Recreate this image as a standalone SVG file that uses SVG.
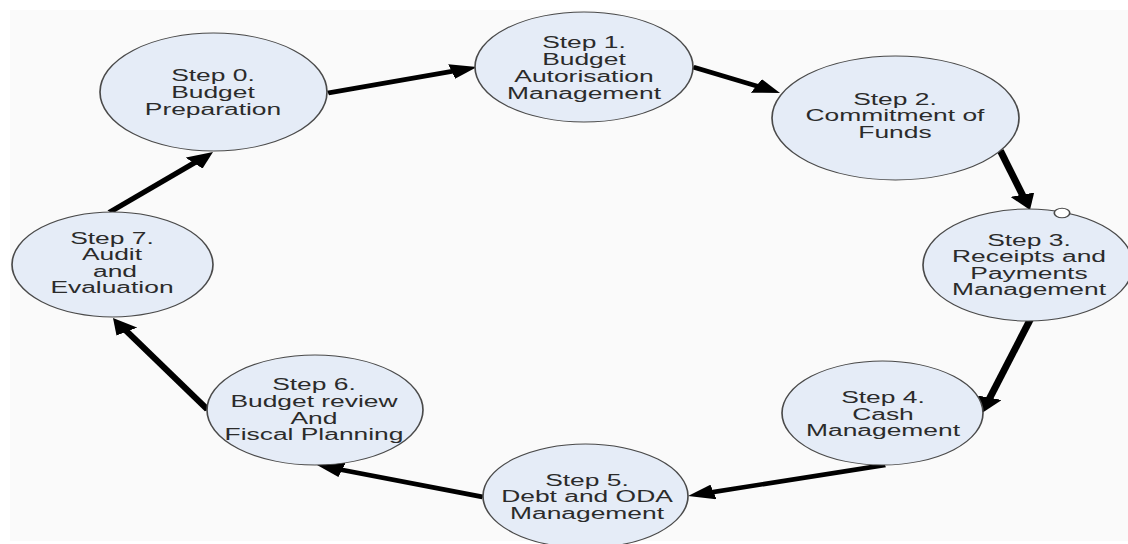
<svg xmlns="http://www.w3.org/2000/svg" width="1128" height="544" viewBox="0 0 1128 544">
<style>
.node{fill:#e5ecf7;stroke:#4a4a4a;stroke-width:1}
.lbl{font-family:"Liberation Sans",Arial,sans-serif;font-size:16px;fill:#2b2b2b;text-anchor:middle}
.conn{stroke:#000;stroke-width:4.5;fill:none;marker-end:url(#arrow)}
.pt{fill:#fff;stroke:#4a4a4a;stroke-width:1}
</style>
<defs>
<marker id="arrow" markerUnits="userSpaceOnUse" markerWidth="16" markerHeight="15" refX="6" refY="7.5" orient="auto">
<path d="M0,0 L16,7.5 L0,15 z" fill="#000"/>
</marker>
</defs>
<rect x="0" y="0" width="1128" height="544" fill="#fff"/>
<rect x="10" y="10" width="1118" height="531" fill="#fafafa"/>
<g transform="scale(1.65 1)">
<g id="connectors">
<line class="conn" x1="198.79" y1="93" x2="279.48" y2="69.77"/>
<line class="conn" x1="420" y1="67" x2="463.76" y2="88.58"/>
<line class="conn" x1="606.06" y1="150" x2="621.34" y2="200.43"/>
<line class="conn" x1="624.24" y1="320" x2="598.14" y2="403.46"/>
<line class="conn" x1="536.36" y1="465" x2="426.65" y2="493.49"/>
<line class="conn" x1="292.73" y1="497" x2="201.65" y2="468.03"/>
<line class="conn" x1="126.06" y1="410" x2="73.79" y2="326.48"/>
<line class="conn" x1="66.67" y1="212" x2="121.88" y2="158.93"/>
</g>
<g id="step0">
<ellipse class="node" cx="129.39" cy="92" rx="68.79" ry="59"/>
<text class="lbl"><tspan x="129.09" y="81">Step 0.</tspan><tspan x="129.09" y="98">Budget</tspan><tspan x="129.09" y="115">Preparation</tspan></text>
</g>
<g id="step1">
<ellipse class="node" cx="353.94" cy="67" rx="66.06" ry="55"/>
<text class="lbl"><tspan x="353.94" y="48">Step 1.</tspan><tspan x="353.94" y="65">Budget</tspan><tspan x="353.94" y="82">Autorisation</tspan><tspan x="353.94" y="99">Management</tspan></text>
</g>
<g id="step2">
<ellipse class="node" cx="542.73" cy="118" rx="74.85" ry="62"/>
<text class="lbl"><tspan x="542.42" y="105">Step 2.</tspan><tspan x="542.42" y="121.5">Commitment of</tspan><tspan x="542.42" y="138">Funds</tspan></text>
</g>
<g id="step3">
<ellipse class="node" cx="623.03" cy="265" rx="63.64" ry="56"/>
<circle class="pt" cx="643.64" cy="213" r="4.7"/>
<text class="lbl"><tspan x="623.64" y="246">Step 3.</tspan><tspan x="623.64" y="262.5">Receipts and</tspan><tspan x="623.64" y="279">Payments</tspan><tspan x="623.64" y="295.5">Management</tspan></text>
</g>
<g id="step4">
<ellipse class="node" cx="534.85" cy="413" rx="60.91" ry="52"/>
<text class="lbl"><tspan x="535.15" y="403.5">Step 4.</tspan><tspan x="535.15" y="420">Cash</tspan><tspan x="535.15" y="436.5">Management</tspan></text>
</g>
<g id="step5">
<ellipse class="node" cx="354.85" cy="496" rx="62.12" ry="52"/>
<text class="lbl"><tspan x="355.76" y="486">Step 5.</tspan><tspan x="355.76" y="502.5">Debt and ODA</tspan><tspan x="355.76" y="519">Management</tspan></text>
</g>
<g id="step6">
<ellipse class="node" cx="190.91" cy="410" rx="65.45" ry="55"/>
<text class="lbl"><tspan x="190.3" y="390.5">Step 6.</tspan><tspan x="190.3" y="407">Budget review</tspan><tspan x="190.3" y="424">And</tspan><tspan x="190.3" y="440.5">Fiscal Planning</tspan></text>
</g>
<g id="step7">
<ellipse class="node" cx="68.18" cy="264.5" rx="60.91" ry="52.5"/>
<text class="lbl"><tspan x="67.88" y="244">Step 7.</tspan><tspan x="67.88" y="260.5">Audit</tspan><tspan x="69.7" y="277">and</tspan><tspan x="67.88" y="293.5">Evaluation</tspan></text>
</g>
</g>
</svg>
